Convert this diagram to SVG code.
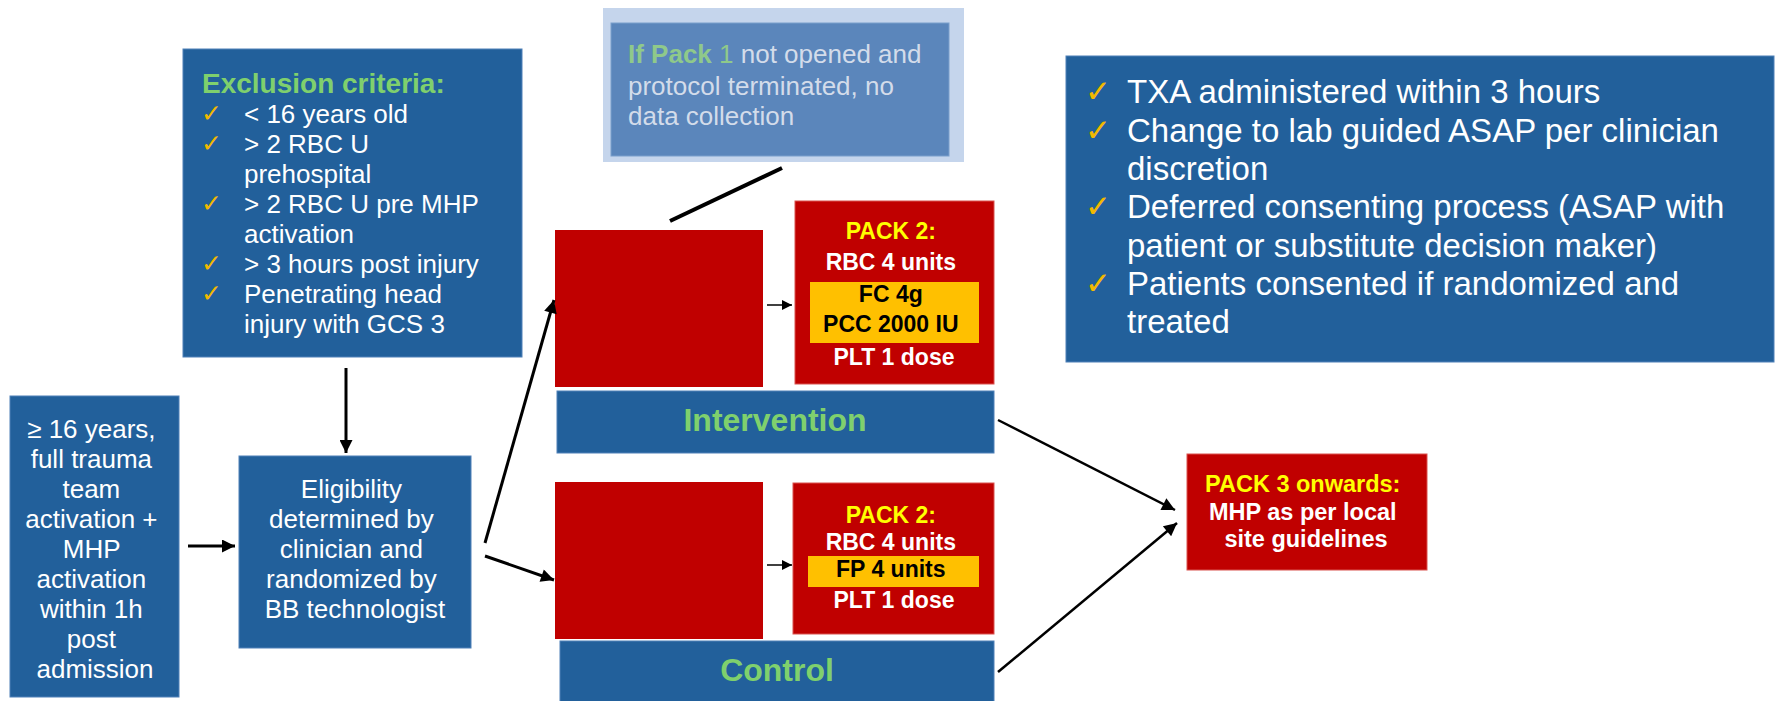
<svg xmlns="http://www.w3.org/2000/svg" width="1777" height="701" viewBox="0 0 1777 701">
  <style>
    .blue { fill: #22609b; stroke: #4f80b8; stroke-width: 1; }
    .red { fill: #c00000; stroke: #d9534f; stroke-width: 1; }
    .orange { fill: #ffc000; }
    .t { font-family: "Liberation Sans", Arial, sans-serif; fill: #ffffff; }
    .b { font-weight: bold; }
    .mid { text-anchor: middle; }
    .green { fill: #7fd06d; }
    .yellow { fill: #ffff00; }
    .dark { fill: #000000; }
    .chk { font-family: "DejaVu Sans", sans-serif; fill: #f2b900; }
    .conn { stroke: #000000; fill: none; }
  </style>
  <defs>
    <marker id="head" viewBox="0 0 10 10" refX="10" refY="5" markerUnits="userSpaceOnUse" markerWidth="17" markerHeight="13" orient="auto">
      <path d="M0,0 L10,5 L0,10 z" fill="#000"/>
    </marker>
    <marker id="headS" viewBox="0 0 10 10" refX="10" refY="5" markerUnits="userSpaceOnUse" markerWidth="12" markerHeight="10" orient="auto">
      <path d="M0,0 L10,5 L0,10 z" fill="#000"/>
    </marker>
  </defs>

  <!-- inclusion -->
  <g id="inclusion">
    <rect class="blue" x="10" y="396" width="169" height="301"/>
    <text class="t mid" font-size="26" x="95">
      <tspan x="95" y="438">≥ 16 years,</tspan>
      <tspan x="95" y="468">full trauma</tspan>
      <tspan x="95" y="498">team</tspan>
      <tspan x="95" y="528">activation +</tspan>
      <tspan x="95" y="558">MHP</tspan>
      <tspan x="95" y="588">activation</tspan>
      <tspan x="95" y="618">within 1h</tspan>
      <tspan x="95" y="648">post</tspan>
      <tspan x="95" y="678">admission</tspan>
    </text>
  </g>

  <!-- exclusion criteria -->
  <g id="exclusion">
    <rect class="blue" x="183" y="49" width="339" height="308"/>
    <text class="t b green" font-size="28" x="202" y="93">Exclusion criteria:</text>
    <g class="chk" font-size="25">
      <text x="201" y="122">✓</text>
      <text x="201" y="152">✓</text>
      <text x="201" y="212">✓</text>
      <text x="201" y="272">✓</text>
      <text x="201" y="302">✓</text>
    </g>
    <text class="t" font-size="26">
      <tspan x="244" y="123">&lt; 16 years old</tspan>
      <tspan x="244" y="153">&gt; 2 RBC U</tspan>
      <tspan x="244" y="183">prehospital</tspan>
      <tspan x="244" y="213">&gt; 2 RBC U pre MHP</tspan>
      <tspan x="244" y="243">activation</tspan>
      <tspan x="244" y="273">&gt; 3 hours post injury</tspan>
      <tspan x="244" y="303">Penetrating head</tspan>
      <tspan x="244" y="333">injury with GCS 3</tspan>
    </text>
  </g>

  <!-- eligibility -->
  <g id="eligibility">
    <rect class="blue" x="239" y="456" width="232" height="192"/>
    <text class="t mid" font-size="26">
      <tspan x="355" y="498">Eligibility</tspan>
      <tspan x="355" y="528">determined by</tspan>
      <tspan x="355" y="558">clinician and</tspan>
      <tspan x="355" y="588">randomized by</tspan>
      <tspan x="355" y="618">BB technologist</tspan>
    </text>
  </g>

  <!-- pack 1 note -->
  <g id="pack1-note">
    <rect x="603" y="8" width="361" height="154" fill="#c5d5ec"/>
    <rect x="611" y="23" width="338" height="133" fill="#5b86bb" stroke="#7a9fcb" stroke-width="1"/>
    <text class="t" font-size="26" style="fill:#d3dcea">
      <tspan x="628" y="63"><tspan font-weight="bold" style="fill:#8fc98a">If Pack</tspan><tspan style="fill:#8fc98a"> 1</tspan> not opened and</tspan>
      <tspan x="628" y="95">protocol terminated, no</tspan>
      <tspan x="628" y="125">data collection</tspan>
    </text>
  </g>

  <!-- intervention arm -->
  <g id="intervention-pack1">
    <rect x="555" y="230" width="208" height="157" fill="#c00000"/>
  </g>
  <g id="intervention-pack2">
    <rect class="red" x="795" y="201" width="199" height="183"/>
    <rect class="orange" x="810" y="282" width="169" height="61"/>
    <text class="t b mid" font-size="23">
      <tspan class="yellow" x="894" y="239">PACK 2:</tspan>
      <tspan x="894" y="270">RBC 4 units</tspan>
      <tspan class="dark" x="894" y="302">FC 4g</tspan>
      <tspan class="dark" x="894" y="332">PCC 2000 IU</tspan>
      <tspan x="894" y="365">PLT 1 dose</tspan>
    </text>
  </g>
  <g id="intervention-label">
    <rect class="blue" x="557" y="391" width="437" height="62"/>
    <text class="t b mid green" font-size="32" x="775" y="431">Intervention</text>
  </g>

  <!-- control arm -->
  <g id="control-pack1">
    <rect x="555" y="482" width="208" height="157" fill="#c00000"/>
  </g>
  <g id="control-pack2">
    <rect class="red" x="793" y="483" width="201" height="151"/>
    <rect class="orange" x="808" y="556" width="171" height="31"/>
    <text class="t b mid" font-size="23">
      <tspan class="yellow" x="894" y="523">PACK 2:</tspan>
      <tspan x="894" y="550">RBC 4 units</tspan>
      <tspan class="dark" x="894" y="577">FP 4 units</tspan>
      <tspan x="894" y="608">PLT 1 dose</tspan>
    </text>
  </g>
  <g id="control-label">
    <rect class="blue" x="560" y="641" width="434" height="70"/>
    <text class="t b mid green" font-size="32" x="777" y="681">Control</text>
  </g>

  <!-- pack 3 -->
  <g id="pack3">
    <rect class="red" x="1187" y="454" width="240" height="116"/>
    <text class="t b mid" font-size="23.5">
      <tspan class="yellow" x="1306" y="492">PACK 3 onwards:</tspan>
      <tspan x="1306" y="520">MHP as per local</tspan>
      <tspan x="1306" y="547">site guidelines</tspan>
    </text>
  </g>

  <!-- notes -->
  <g id="notes">
    <rect class="blue" x="1066" y="56" width="708" height="306"/>
    <g class="chk" font-size="31">
      <text x="1085" y="102">✓</text>
      <text x="1085" y="141">✓</text>
      <text x="1085" y="217">✓</text>
      <text x="1085" y="294">✓</text>
    </g>
    <text class="t" font-size="33">
      <tspan x="1127" y="103">TXA administered within 3 hours</tspan>
      <tspan x="1127" y="142">Change to lab guided ASAP per clinician</tspan>
      <tspan x="1127" y="180">discretion</tspan>
      <tspan x="1127" y="218">Deferred consenting process (ASAP with</tspan>
      <tspan x="1127" y="257">patient or substitute decision maker)</tspan>
      <tspan x="1127" y="295">Patients consented if randomized and</tspan>
      <tspan x="1127" y="333">treated</tspan>
    </text>
  </g>

  <!-- connectors -->
  <g id="connectors" class="conn">
    <line x1="188" y1="546" x2="235" y2="546" stroke-width="3" marker-end="url(#head)"/>
    <line x1="346" y1="368" x2="346" y2="453" stroke-width="3" marker-end="url(#head)"/>
    <line x1="485" y1="543" x2="554" y2="300" stroke-width="3" marker-end="url(#head)"/>
    <line x1="485" y1="556" x2="554" y2="580" stroke-width="3" marker-end="url(#head)"/>
    <line x1="670" y1="221" x2="782" y2="168" stroke-width="4"/>
    <line x1="767" y1="305" x2="792" y2="305" stroke-width="1.5" marker-end="url(#headS)"/>
    <line x1="767" y1="565" x2="792" y2="565" stroke-width="1.5" marker-end="url(#headS)"/>
    <line x1="998" y1="420" x2="1175" y2="510" stroke-width="2.5" marker-end="url(#head)"/>
    <line x1="998" y1="672" x2="1177" y2="523" stroke-width="2.5" marker-end="url(#head)"/>
  </g>
</svg>
